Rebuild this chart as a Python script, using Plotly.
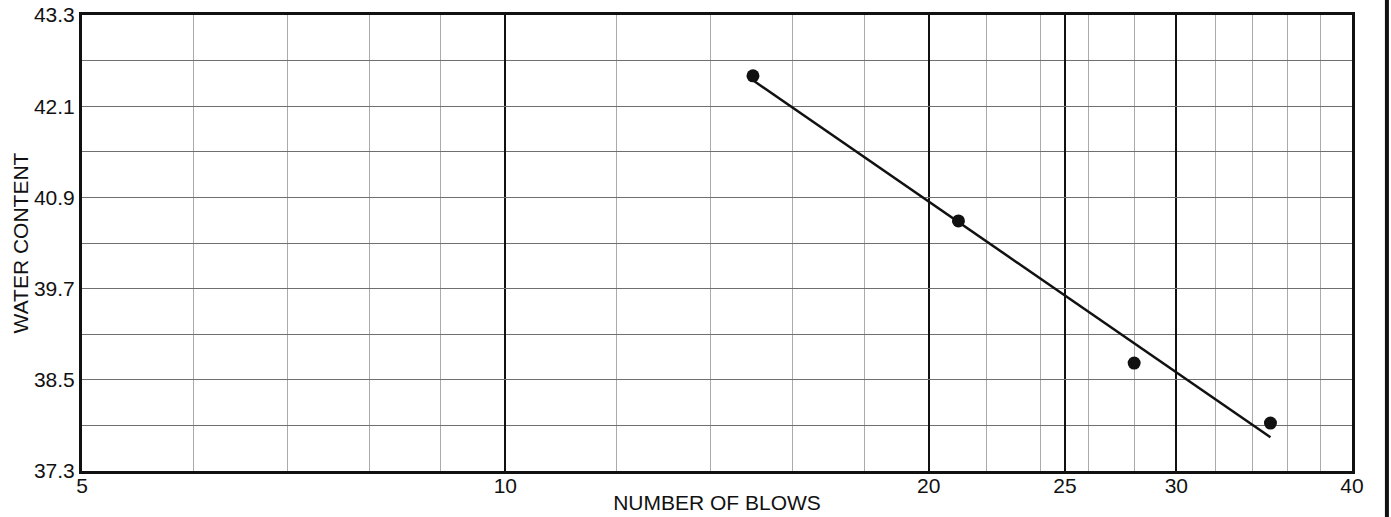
import numpy as np
import plotly.graph_objects as go

# Data
blows = [15, 21, 28, 35]
water_content = [42.50, 40.59, 38.72, 37.93]

x_tick_vals = [5, 10, 20, 25, 30, 40]
x_tick_text = ["5", "10", "20", "25", "30", "40"]
x_minor_vals = [6, 7, 8, 9, 12, 14, 16, 18, 22, 24, 26, 28, 32, 34, 36, 38]

y_tick_vals = [37.3, 38.5, 39.7, 40.9, 42.1, 43.3]
y_tick_text = ["37.3", "38.5", "39.7", "40.9", "42.1", "43.3"]

# Least-squares flow line (water content vs log of blows)
slope, intercept = np.polyfit(np.log10(blows), water_content, 1)
fit_x = [blows[0], blows[-1]]
fit_y = [slope * np.log10(v) + intercept for v in fit_x]

font_family = "Liberation Sans, Arial, sans-serif"

fig = go.Figure()
fig.add_trace(go.Scatter(
    x=fit_x, y=fit_y, mode="lines",
    line=dict(color="#111111", width=2.5),
    showlegend=False, hoverinfo="skip",
))
fig.add_trace(go.Scatter(
    x=blows, y=water_content, mode="markers",
    marker=dict(color="#111111", size=13),
    showlegend=False,
))

fig.update_layout(
    width=1391, height=517,
    margin=dict(l=82, r=39, t=15, b=46, autoexpand=False),
    paper_bgcolor="white", plot_bgcolor="white",
    font=dict(family=font_family, size=21, color="#111111"),
    xaxis=dict(
        type="log",
        range=[np.log10(5), np.log10(40)],
        tickmode="array", tickvals=x_tick_vals, ticktext=x_tick_text,
        showgrid=True, gridcolor="#111111", gridwidth=2,
        minor=dict(tickmode="array", tickvals=x_minor_vals, showgrid=True,
                   gridcolor="#aaaaaa", gridwidth=1, ticks=""),
        showline=True, linecolor="#111111", linewidth=3, mirror=True,
        ticks="", ticklen=0,
        ticklabelstandoff=-6,
        tickfont=dict(size=21),
        automargin=False,
        title=dict(text="NUMBER OF BLOWS", font=dict(size=21), standoff=0),
        zeroline=False,
    ),
    yaxis=dict(
        range=[37.3, 43.3],
        tickmode="array", tickvals=y_tick_vals, ticktext=y_tick_text,
        showgrid=True, gridcolor="#6f6f6f", gridwidth=1,
        minor=dict(tick0=37.3, dtick=0.6, showgrid=True,
                   gridcolor="#6f6f6f", gridwidth=1, ticks=""),
        showline=True, linecolor="#111111", linewidth=3, mirror=True,
        ticks="", ticklen=0,
        tickfont=dict(size=21),
        automargin=False,
        title=dict(text="WATER CONTENT", font=dict(size=21), standoff=0),
        zeroline=False,
    ),
)

# dark scan edge at the right border of the page
fig.add_shape(type="line", xref="paper", yref="paper",
              x0=1.0275, x1=1.0275, y0=-0.2, y1=1.1,
              line=dict(color="#111111", width=4))

fig.write_html(
    "out.html",
    config={"displayModeBar": False},
    post_script="document.body.style.margin='0px';document.body.style.overflow='hidden';",
)
